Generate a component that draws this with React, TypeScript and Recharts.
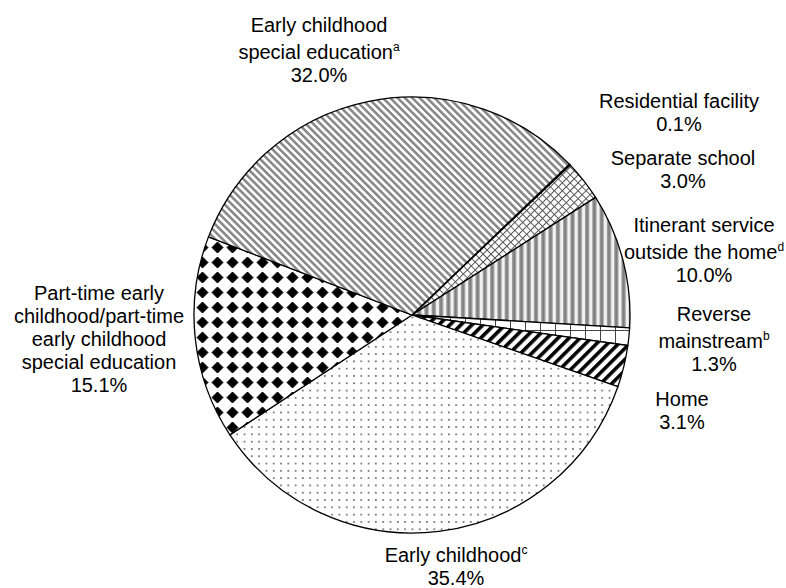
import React from "react";
import { PieChart, Pie, Cell } from "recharts";

// placement categories, clockwise from the top-right edge of the big slice
const CATEGORIES = [
  "Residential facility",
  "Separate school",
  "Itinerant service outside the home",
  "Reverse mainstream",
  "Home",
  "Early childhood",
  "Part-time early childhood/part-time early childhood special education",
  "Early childhood special education",
];
const SHARES = [0.1, 3.0, 10.0, 1.3, 3.1, 35.4, 15.1, 32.0];
const FOOTNOTES = ["", "", "d", "b", "", "c", "", "a"];
const LABEL_LINES = [
  ["Residential facility"],
  ["Separate school"],
  ["Itinerant service", "outside the home"],
  ["Reverse", "mainstream"],
  ["Home"],
  ["Early childhood"],
  ["Part-time early", "childhood/part-time", "early childhood", "special education"],
  ["Early childhood", "special education"],
];

const PATTERNS = ["pRes", "pSep", "pItin", "pRev", "pHome", "pEc", "pPart", "pEcse"];
// label anchor offsets from the pie centre (x centre, first baseline)
const LABEL_OFFSETS: [number, number][] = [
  [267, -207],
  [271, -150],
  [292, -83],
  [302, 6],
  [270, 91],
  [44, 247],
  [-313, -15],
  [-93, -283],
];

const data = CATEGORIES.map((name, i) => ({ name, value: SHARES[i] }));

const FONT = "'Liberation Sans', Arial, sans-serif";
const LINE_GAP = 23;
const SUP_EXTRA = 4;

const renderLabel = (props: any) => {
  const { cx, cy, index } = props;
  const [ox, oy] = LABEL_OFFSETS[index];
  const x = cx + ox;
  const lines = LABEL_LINES[index];
  const note = FOOTNOTES[index];
  let y = cy + oy;
  const spans: React.ReactNode[] = [];
  lines.forEach((line, i) => {
    const isLast = i === lines.length - 1;
    if (i > 0) y += LINE_GAP + (isLast && note ? SUP_EXTRA : 0);
    spans.push(
      <tspan key={i} x={x} y={y}>
        {line}
        {isLast && note ? (
          <tspan dy={-8} fontSize={12}>
            {note}
          </tspan>
        ) : null}
      </tspan>
    );
  });
  y += LINE_GAP;
  spans.push(
    <tspan key="pct" x={x} y={y}>
      {SHARES[index].toFixed(1)}%
    </tspan>
  );
  return (
    <text
      key={`lbl-${index}`}
      textAnchor="middle"
      fontFamily={FONT}
      fontSize={20}
      fill="#000"
    >
      {spans}
    </text>
  );
};

const App = () => (
  <div style={{ position: "absolute", left: 0, top: 0, background: "#fff" }}>
    <PieChart width={786} height={588}>
      <defs>
        <pattern id="pRes" width="6" height="6" patternUnits="userSpaceOnUse">
          <rect width="6" height="6" fill="#fff" />
        </pattern>
        <pattern
          id="pEcse"
          width="5.2"
          height="5.2"
          patternUnits="userSpaceOnUse"
          patternTransform="rotate(45)"
        >
          <rect width="5.2" height="5.2" fill="#fff" />
          <rect width="5.2" height="2.6" fill="#8a8a8a" />
        </pattern>
        <pattern
          id="pSep"
          width="5.6"
          height="5.6"
          patternUnits="userSpaceOnUse"
          patternTransform="rotate(45)"
        >
          <rect width="5.6" height="5.6" fill="#fff" />
          <path d="M0 0.5H5.6M0.5 0V5.6" stroke="#555" strokeWidth="1" />
        </pattern>
        <pattern id="pItin" width="7.3" height="10" patternUnits="userSpaceOnUse">
          <rect width="7.3" height="10" fill="#f2f2f2" />
          <rect x="1" width="4.2" height="10" fill="#9a9a9a" />
          <rect x="2.3" width="1.6" height="10" fill="#7a7a7a" />
        </pattern>
        <pattern id="pRev" width="15" height="15" patternUnits="userSpaceOnUse">
          <rect width="15" height="15" fill="#fff" />
          <path d="M0 0.5H15M0.5 0V15" stroke="#444" strokeWidth="1" />
        </pattern>
        <pattern
          id="pHome"
          width="7.8"
          height="7.8"
          patternUnits="userSpaceOnUse"
          patternTransform="rotate(45)"
        >
          <rect width="7.8" height="7.8" fill="#fff" />
          <rect width="3.6" height="7.8" fill="#000" />
        </pattern>
        <pattern id="pEc" width="7.3" height="7.3" patternUnits="userSpaceOnUse">
          <rect width="7.3" height="7.3" fill="#fff" />
          <circle cx="3.6" cy="3.6" r="0.9" fill="#555" />
        </pattern>
        <pattern id="pPart" width="15" height="15" patternUnits="userSpaceOnUse">
          <rect width="15" height="15" fill="#fff" />
          <path
            d="M7.5 2 L13 7.5 L7.5 13 L2 7.5 Z"
            fill="#000"
            stroke="#000"
            strokeWidth="1"
            strokeLinejoin="round"
          />
        </pattern>
      </defs>
      <Pie
        data={data}
        dataKey="value"
        nameKey="name"
        cx={407}
        cy={310}
        outerRadius={218}
        startAngle={43.8}
        endAngle={-316.2}
        stroke="#000"
        strokeWidth={1.3}
        label={renderLabel}
        labelLine={false}
        isAnimationActive={false}
      >
        {data.map((d, i) => (
          <Cell key={d.name} fill={`url(#${PATTERNS[i]})`} />
        ))}
      </Pie>
    </PieChart>
  </div>
);

export default App;
